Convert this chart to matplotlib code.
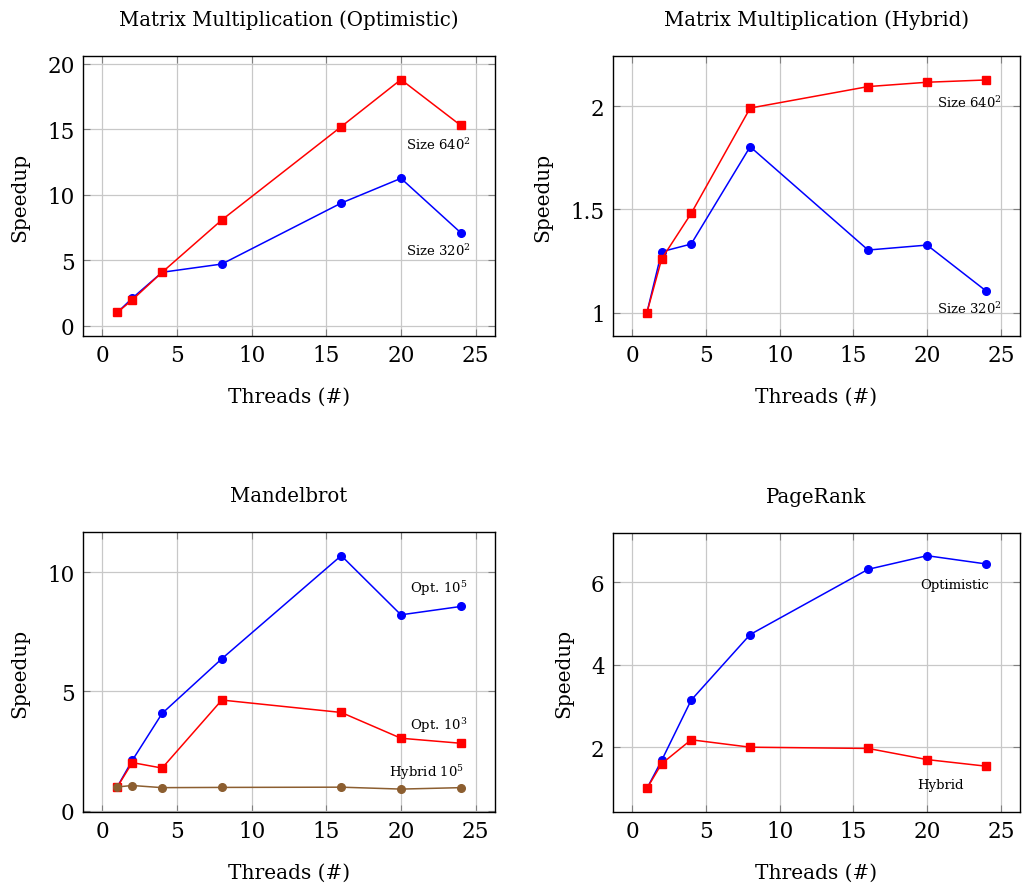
import matplotlib
matplotlib.use('Agg')
import matplotlib.pyplot as plt
from matplotlib.ticker import FuncFormatter

plt.rcParams['font.family'] = ['DejaVu Serif']
plt.rcParams['mathtext.fontset'] = 'dejavuserif'

threads = [1, 2, 4, 8, 16, 20, 24]

# Matrix multiplication (optimistic)
mm_opt_640 = [1.0, 1.96, 4.07, 8.07, 15.2, 18.8, 15.3]
mm_opt_320 = [1.0, 2.09, 4.07, 4.7, 9.36, 11.25, 7.1]

# Matrix multiplication (hybrid)
mm_hyb_640 = [1.0, 1.26, 1.48, 1.99, 2.094, 2.115, 2.126]
mm_hyb_320 = [1.0, 1.295, 1.332, 1.803, 1.303, 1.327, 1.105]

# Mandelbrot
mb_opt_1e5 = [1.01, 2.11, 4.08, 6.37, 10.69, 8.21, 8.56]
mb_opt_1e3 = [1.0, 2.02, 1.79, 4.64, 4.12, 3.04, 2.83]
mb_hyb_1e5 = [1.0, 1.06, 0.97, 0.98, 0.99, 0.91, 0.97]

# PageRank
pr_opt = [1.0, 1.68, 3.14, 4.73, 6.31, 6.64, 6.44]
pr_hyb = [1.0, 1.6, 2.18, 2.0, 1.97, 1.7, 1.54]

BLUE = '#0000ff'
RED = '#ff0000'
BROWN = '#8c5e30'

fig = plt.figure(figsize=(10.22, 8.87), dpi=100)
W, H = 1022, 887


def make_ax(l, r, t, b):
    return fig.add_axes([l / W, 1 - b / H, (r - l) / W, (b - t) / H])


def style(ax, title, ylim, yticks):
    ax.set_xlim(-1.3, 26.3)
    ax.set_ylim(*ylim)
    ax.set_xticks([0, 5, 10, 15, 20, 25])
    ax.set_yticks(yticks)
    ax.yaxis.set_major_formatter(FuncFormatter(lambda v, p: '{:g}'.format(v)))
    ax.grid(True, color='#c8c8c8', lw=0.9)
    ax.set_axisbelow(True)
    ax.tick_params(direction='in', length=5, width=0.8, color='#808080',
                   top=True, right=True, labelsize=15.5, pad=6)
    for s in ax.spines.values():
        s.set_linewidth(1.0)
    ax.set_title(title, fontsize=14.2, pad=22)
    ax.set_xlabel('Threads (#)', fontsize=14.5, labelpad=15)
    ax.set_ylabel('Speedup', fontsize=14.5, labelpad=13)


def line(ax, y, color, marker):
    ms = 5.5 if marker == 'o' else 6
    ax.plot(threads, y, color=color, lw=1.1, marker=marker, ms=ms,
            mfc=color, mec=color, zorder=3)


def note(ax, x, y, s):
    ax.text(x, y, s, fontsize=9.5, ha='center', va='center', zorder=4)


ax1 = make_ax(83, 495, 57, 337)
style(ax1, 'Matrix Multiplication (Optimistic)', (-0.8, 20.6), [0, 5, 10, 15, 20])
line(ax1, mm_opt_320, BLUE, 'o')
line(ax1, mm_opt_640, RED, 's')
note(ax1, 22.5, 13.9, 'Size 640$^2$')
note(ax1, 22.5, 5.8, 'Size 320$^2$')

ax2 = make_ax(613, 1020, 57, 337)
style(ax2, 'Matrix Multiplication (Hybrid)', (0.887, 2.242), [1, 1.5, 2])
line(ax2, mm_hyb_320, BLUE, 'o')
line(ax2, mm_hyb_640, RED, 's')
note(ax2, 22.9, 2.02, 'Size 640$^2$')
note(ax2, 22.9, 1.02, 'Size 320$^2$')

ax3 = make_ax(83, 495, 533, 813)
style(ax3, 'Mandelbrot', (-0.05, 11.68), [0, 5, 10])
line(ax3, mb_opt_1e5, BLUE, 'o')
line(ax3, mb_opt_1e3, RED, 's')
line(ax3, mb_hyb_1e5, BROWN, 'o')
note(ax3, 22.5, 9.37, 'Opt. 10$^5$')
note(ax3, 22.5, 3.6, 'Opt. 10$^3$')
note(ax3, 21.7, 1.64, 'Hybrid 10$^5$')

ax4 = make_ax(613, 1020, 534, 813)
style(ax4, 'PageRank', (0.43, 7.19), [2, 4, 6])
line(ax4, pr_opt, BLUE, 'o')
line(ax4, pr_hyb, RED, 's')
note(ax4, 21.9, 5.95, 'Optimistic')
note(ax4, 20.9, 1.1, 'Hybrid')

fig.savefig('out.png', dpi=100)
